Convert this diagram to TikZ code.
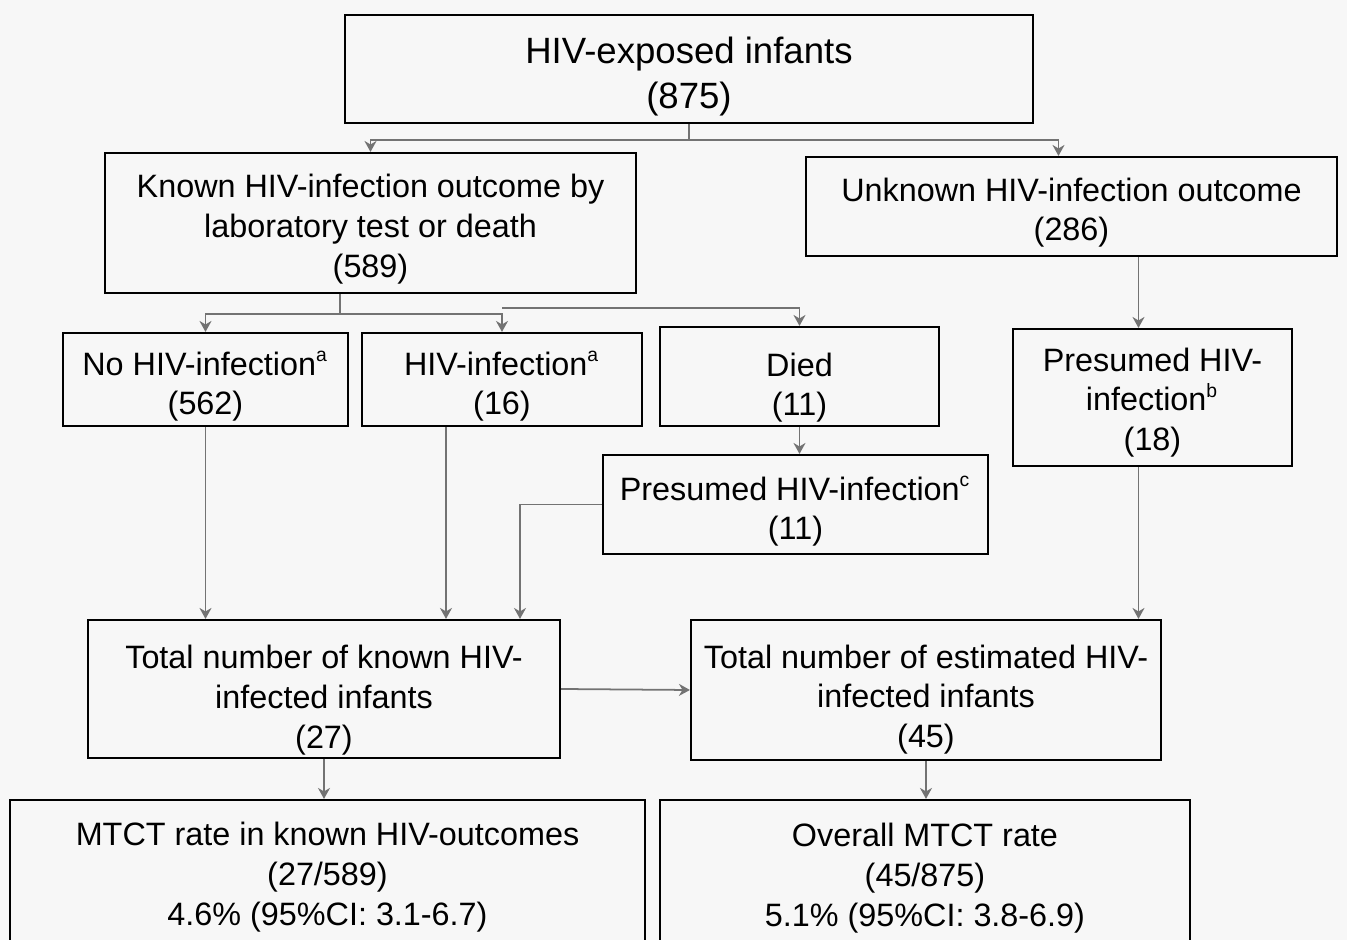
\documentclass[tikz,border=0pt]{standalone}
\usepackage{fontspec}
\setmainfont{Liberation Sans}
\usetikzlibrary{calc,arrows.meta}
\newcommand{\boxfont}{\fontsize{9.2}{11.3}\selectfont}
\newcommand{\topfont}{\fontsize{10.4}{12.8}\selectfont}
\newcommand{\lift}[1]{\rule{0pt}{#1}}
\newcommand{\fnmark}[1]{\textsuperscript{\fontsize{5.5}{6}\selectfont #1}}

\begin{document}
\begin{tikzpicture}[x=0.01cm,y=-0.01cm,
	box/.style={draw, line width=0.6pt, inner sep=0pt, align=center, font=\boxfont},
	arr/.style={draw=black!55, line width=0.5pt, -{Stealth[length=1.1mm,width=1.2mm]}},
	conn/.style={draw=black!55, line width=0.5pt}]
	\useasboundingbox[fill=black!3] (0,0) rectangle (1347,940);
	\clip (0,0) rectangle (1347,940);

	\node[box, font=\topfont, minimum width=688*0.01cm, minimum height=108*0.01cm] (expo) at (689,69) {\lift{11.6pt}HIV-exposed infants\\(875)};
	\node[box, minimum width=531*0.01cm, minimum height=140*0.01cm] (known) at (370.5,223) {\lift{10.1pt}Known HIV-infection outcome by\\laboratory test or death\\(589)};
	\node[box, minimum width=531*0.01cm, minimum height=99*0.01cm] (unknown) at (1071.5,206.5) {\lift{10.1pt}Unknown HIV-infection outcome\\(286)};
	\node[box, minimum width=285*0.01cm, minimum height=93*0.01cm] (nohiv) at (205.5,379.5) {\lift{10.7pt}No HIV-infection\fnmark{a}\\(562)};
	\node[box, minimum width=280*0.01cm, minimum height=93*0.01cm] (hivinf) at (502,379.5) {\lift{10.7pt}HIV-infection\fnmark{a}\\(16)};
	\node[box, minimum width=279*0.01cm, minimum height=99*0.01cm] (died) at (799.5,376.5) {\lift{13pt}Died\\(11)};
	\node[box, minimum width=279*0.01cm, minimum height=137*0.01cm] (presb) at (1152.5,397.5) {\lift{9.5pt}Presumed HIV-\\infection\fnmark{b}\\(18)};
	\node[box, minimum width=385*0.01cm, minimum height=99*0.01cm] (presc) at (795.5,504.5) {\lift{10.7pt}Presumed HIV-infection\fnmark{c}\\(11)};
	\node[box, minimum width=472*0.01cm, minimum height=138*0.01cm] (totknown) at (324,689) {\lift{13pt}Total number of known HIV-\\infected infants\\(27)};
	\node[box, minimum width=470*0.01cm, minimum height=140*0.01cm] (totest) at (926,690) {\lift{12.1pt}Total number of estimated HIV-\\infected infants\\(45)};
	\node[box, minimum width=635*0.01cm, minimum height=150*0.01cm] (ratek) at (327.5,875) {\lift{7.8pt}MTCT rate in known HIV-outcomes\\(27/589)\\4.6\% (95\%CI: 3.1-6.7)};
	\node[box, minimum width=530*0.01cm, minimum height=150*0.01cm] (rateall) at (925,875) {\lift{8.4pt}Overall MTCT rate\\(45/875)\\5.1\% (95\%CI: 3.8-6.9)};

	\coordinate (split1) at (689,140);
	\coordinate (split2) at (340,314);
	\coordinate (split3) at (502,308);
	\coordinate (unkin) at ($(unknown.north)+(-13,0)$);
	\coordinate (presbin) at ($(presb.north)+(-14,0)$);
	\coordinate (presbout) at ($(presb.south)+(-14,0)$);
	\coordinate (hivout) at ($(hivinf.south)+(-56,0)$);
	\coordinate (prescin) at ($(totknown.north)+(196,0)$);

	\draw[conn] (expo.south) -- (split1);
	\draw[arr] (split1) -| (known.north);
	\draw[arr] (split1) -| (unkin);
	\draw[conn] (split2 |- known.south) -- (split2);
	\draw[arr] (split2) -| (nohiv.north);
	\draw[arr] (split2) -| (hivinf.north);
	\draw[arr] (split3) -| (died.north);
	\draw[arr] (presbin |- unknown.south) -- (presbin);
	\draw[arr] (died.south) -- (died.south |- presc.north);
	\draw[arr] (nohiv.south) -- (nohiv.south |- totknown.north);
	\draw[arr] (hivout) -- (hivout |- totknown.north);
	\draw[arr] (presc.west) -| (prescin);
	\draw[arr] (presbout) -- (presbout |- totest.north);
	\draw[arr] (totknown.east) -- (totest.west);
	\draw[arr] (totknown.south) -- (totknown.south |- ratek.north);
	\draw[arr] (totest.south) -- (totest.south |- rateall.north);
\end{tikzpicture}
\end{document}
